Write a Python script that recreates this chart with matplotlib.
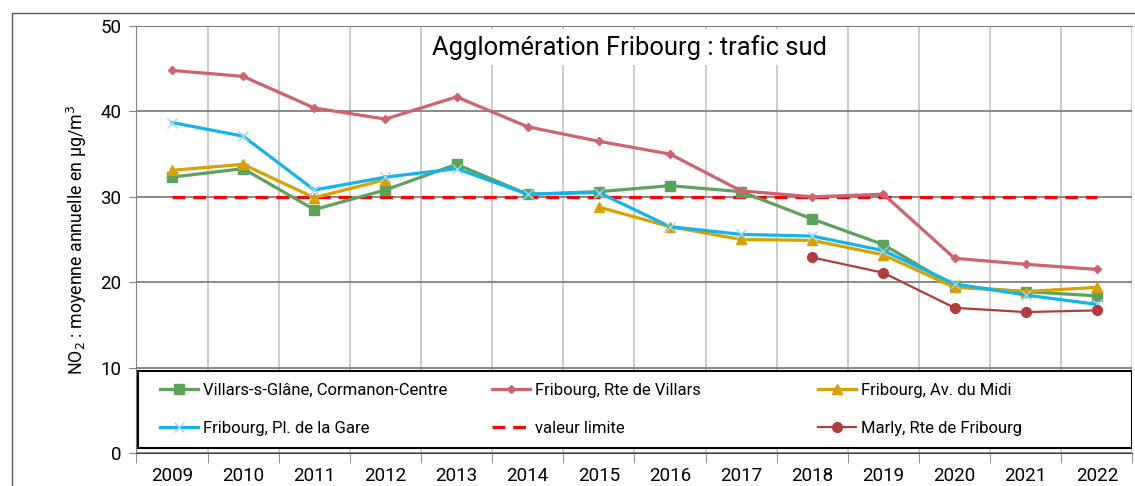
import numpy as np
import matplotlib
matplotlib.use("Agg")
import matplotlib.pyplot as plt
from matplotlib.patches import Rectangle
from matplotlib.legend import Legend

plt.rcParams['font.family'] = ['Roboto', 'DejaVu Sans']

# annual NO2 means, µg/m3 (NaN = no measurement)
years = ['2009', '2010', '2011', '2012', '2013', '2014', '2015',
         '2016', '2017', '2018', '2019', '2020', '2021', '2022']
nan = np.nan
villars_glane = [32.3, 33.3, 28.5, 30.8, 33.8, 30.3, 30.6, 31.3, 30.6, 27.4, 24.4, 19.5, 18.9, 18.4]
rte_villars = [44.8, 44.1, 40.4, 39.1, 41.7, 38.2, 36.5, 35.0, 30.7, 30.0, 30.3, 22.8, 22.1, 21.5]
av_midi = [33.1, 33.8, 29.9, 32.0, nan, nan, 28.8, 26.5, 25.0, 24.9, 23.2, 19.4, 18.9, 19.4]
pl_gare = [38.7, 37.1, 30.8, 32.3, 33.3, 30.3, 30.5, 26.5, 25.6, 25.4, 23.7, 19.8, 18.5, 17.4]
limite = [30] * 14
marly = [nan, nan, nan, nan, nan, nan, nan, nan, nan, 22.9, 21.1, 17.0, 16.5, 16.7]

W, H = 1135, 486
fig = plt.figure(figsize=(W / 100, H / 100), dpi=100)

# outer chart frame
fig.patches.append(Rectangle((12 / W, -0.1), 1.2, 1 - 13 / H + 0.1, transform=fig.transFigure,
                             fill=False, edgecolor='#595959', linewidth=1))

ax = fig.add_axes([136.4 / W, 33 / H, 996 / W, 427 / H])
x = np.arange(len(years))

l_green, = ax.plot(x, villars_glane, color='#5ba35b', lw=2.3, marker='s', ms=7,
                   label='Villars-s-Glâne, Cormanon-Centre', zorder=5)
l_red, = ax.plot(x, rte_villars, color='#d0616f', lw=2.3, marker='D', ms=4.5,
                 label='Fribourg, Rte de Villars', zorder=5)
l_orange, = ax.plot(x, av_midi, color='#d9a100', lw=2.3, marker='^', ms=7.5,
                    label='Fribourg, Av. du Midi', zorder=5)
l_blue, = ax.plot(x, pl_gare, color='#10b4ef', lw=2.3, marker='x', ms=7, mew=1,
                  mec='#9dd4ec', label='Fribourg, Pl. de la Gare', zorder=5)
l_lim, = ax.plot(x, limite, color='#ff0000', lw=2.3, ls=(0, (4, 2.5)),
                 label='valeur limite', zorder=4)
l_marly, = ax.plot(x, marly, color='#b23b3b', lw=1.6, marker='o', ms=7,
                   label='Marly, Rte de Fribourg', zorder=5)

ax.set_xlim(-0.5, len(years) - 0.5)
ax.set_ylim(0, 50)
ax.set_xticks(x)
ax.set_xticklabels(years, fontsize=13.5)
ax.set_xticks(np.arange(-0.5, len(years)), minor=True)
ax.tick_params(axis='x', which='major', length=0, pad=10)
ax.tick_params(axis='x', which='minor', length=7, color='#808080')
ax.set_yticks([0, 10, 20, 30, 40, 50])
ax.tick_params(axis='y', labelsize=13.5, length=5, color='#808080', pad=6)
ax.grid(axis='x', which='minor', color='#c8c8c8', lw=1.3)
ax.grid(axis='y', which='major', color='#7f7f7f', lw=1.3)
ax.set_axisbelow(True)
ax.spines['right'].set_visible(False)
ax.spines['top'].set_color('#7f7f7f')
ax.spines['left'].set_color('#7f7f7f')
ax.spines['bottom'].set_color('#404040')

ax.set_ylabel('NO$_2$ : moyenne annuelle en µg/m$^3$', fontsize=12.8, labelpad=8)

ax.text(0.4946, 0.950, 'Agglomération Fribourg : trafic sud', transform=ax.transAxes,
        ha='center', va='center', fontsize=18.4, zorder=6,
        bbox=dict(facecolor='white', edgecolor='none', pad=4))

# legend frame and three columns
ax.add_patch(Rectangle((0.0016, 0.0117), 0.9984, 0.180, transform=ax.transAxes,
                       facecolor='white', edgecolor='black', lw=1.5, zorder=6))
cols = [(l_green, l_blue), (l_red, l_lim), (l_orange, l_marly)]
xpos = [0.0237, 0.357, 0.6843]
for (h1, h2), xp in zip(cols, xpos):
    leg = Legend(ax, [h1, h2], [h1.get_label(), h2.get_label()], loc='upper left',
                 bbox_to_anchor=(xp, 0.165), frameon=False, fontsize=12,
                 borderpad=0, borderaxespad=0, handlelength=2.3, handletextpad=0.3,
                 labelspacing=1.4)
    leg.set_zorder(7)
    ax.add_artist(leg)

fig.savefig('out.png', dpi=100)
